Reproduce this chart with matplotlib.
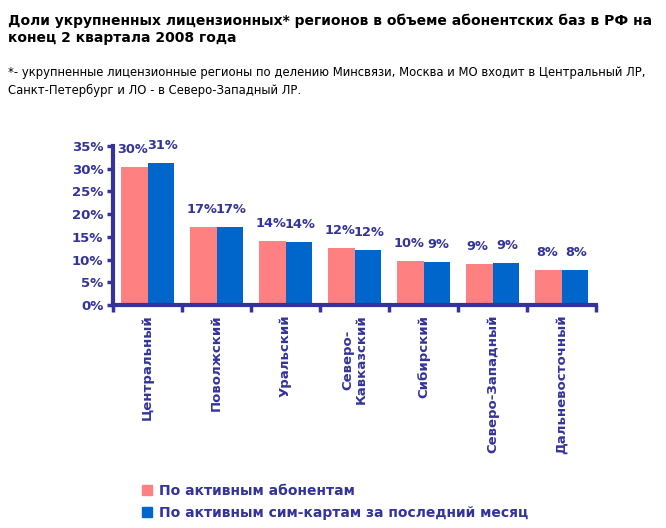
import matplotlib
matplotlib.use('Agg')
import matplotlib.pyplot as plt
import numpy as np
from matplotlib.patches import Patch

regions = ['Центральный', 'Поволжский', 'Уральский', 'Северо-\nКавказский',
           'Сибирский', 'Северо-Западный', 'Дальневосточный']
active_subs = [30.3, 17.1, 14.0, 12.5, 9.6, 9.0, 7.6]
active_sims = [31.2, 17.1, 13.8, 12.0, 9.4, 9.2, 7.6]
labels_subs = ['30%', '17%', '14%', '12%', '10%', '9%', '8%']
labels_sims = ['31%', '17%', '14%', '12%', '9%', '9%', '8%']
yticks = [0, 5, 10, 15, 20, 25, 30, 35]

title = ('Доли укрупненных лицензионных* регионов в объеме абонентских баз в РФ на\n'
         'конец 2 квартала 2008 года')
note = ('*- укрупненные лицензионные регионы по делению Минсвязи, Москва и МО входит в Центральный ЛР,\n'
        'Санкт-Петербург и ЛО - в Северо-Западный ЛР.')

pink = '#FF8080'
blue = '#0066CC'
navy = '#333399'

fig = plt.figure(figsize=(6.66, 5.28), dpi=100)
fig.text(0.012, 0.975, title, fontsize=10, fontweight='bold', va='top',
         linespacing=1.3, color='black')
fig.text(0.012, 0.875, note, fontsize=8.4, va='top', linespacing=1.5,
         color='black')

ax = fig.add_axes([0.1697, 0.4223, 0.7253, 0.3012])
x = np.arange(len(regions))
w = 0.39
ax.bar(x - w / 2, active_subs, w, color=pink, label='По активным абонентам')
ax.bar(x + w / 2, active_sims, w, color=blue,
       label='По активным сим-картам за последний месяц')

for i in range(len(regions)):
    ax.annotate(labels_subs[i], (x[i] - w / 2, active_subs[i]), xytext=(-1, 8),
                textcoords='offset points', ha='center', va='bottom',
                fontsize=9.3, fontweight='bold', color=navy)
    ax.annotate(labels_sims[i], (x[i] + w / 2, active_sims[i]), xytext=(1, 8),
                textcoords='offset points', ha='center', va='bottom',
                fontsize=9.3, fontweight='bold', color=navy)

ax.set_xlim(-0.5, len(regions) - 0.5)
ax.set_ylim(0, 35)
ax.set_yticks(yticks)
ax.set_yticklabels([f'{t}%' for t in yticks], fontsize=9.5, fontweight='bold',
                   color=navy)
ax.set_xticks(np.arange(len(regions) + 1) - 0.5)
ax.set_xticklabels([])
ax.set_xticks(x, minor=True)
ax.set_xticklabels(regions, minor=True, rotation=90, fontsize=9.5,
                   fontweight='bold', color=navy, va='top', ha='center',
                   linespacing=1.1)
ax.tick_params(axis='x', which='minor', length=0, pad=7)
ax.tick_params(axis='x', which='major', length=5, width=2.5, color=navy,
               direction='out')
ax.tick_params(axis='y', length=4, width=2.5, color=navy, direction='out',
               pad=3)
for s in ['top', 'right']:
    ax.spines[s].set_visible(False)
for s in ['left', 'bottom']:
    ax.spines[s].set_color(navy)
    ax.spines[s].set_linewidth(3)

handles = [Patch(color=pink), Patch(color=blue)]
leg = fig.legend(handles, ['По активным абонентам',
                           'По активным сим-картам за последний месяц'],
                 loc='upper left', bbox_to_anchor=(0.194, 0.107),
                 frameon=False, handlelength=0.75, handleheight=0.75,
                 handletextpad=0.5, labelspacing=0.55,
                 prop={'size': 10, 'weight': 'bold'})
for t in leg.get_texts():
    t.set_color(navy)

fig.savefig('out.png', dpi=100)
